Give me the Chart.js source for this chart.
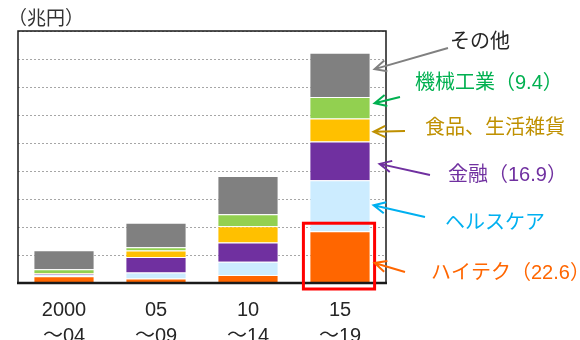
<!DOCTYPE html>
<html>
<head>
<meta charset="utf-8">
<script src="https://cdn.jsdelivr.net/npm/chart.js@4/dist/chart.umd.min.js"></script>
<style>
  body { margin: 0; background: #fff; }
  #wrap { width: 580px; height: 340px; }
</style>
</head>
<body>
<div id="wrap"><canvas id="chart" width="580" height="340"></canvas></div>
<script>
// 兆円
const categories = [["2000", "～04"], ["05", "～09"], ["10", "～14"], ["15", "～19"]];
const hitech = [3.0, 2.0, 3.5, 22.6];
const health = [0.6, 2.6, 5.8, 22.3];
const finance = [0.4, 6.7, 8.4, 16.9];
const food = [0.4, 2.9, 7.1, 10.0];
const machinery = [1.6, 1.4, 5.2, 9.4];
const others = [8.3, 10.7, 16.7, 19.3];

const FONT = '"Liberation Sans", "Noto Sans CJK JP", sans-serif';

// labels on the right, one per dataset (dataset index, arrow tip position in segment)
const notes = [
  { ds: 5, text: "その他", color: "#262626", arrow: "#808080", f: 0.37, tipDx: 4, tail: [62, 48], at: [64, 42] },
  { ds: 4, text: "機械工業（9.4）", color: "#00B050", arrow: "#00B050", f: 0.29, tipDx: 4, tail: [14, 97], at: [29, 83] },
  { ds: 3, text: "食品、生活雑貨", color: "#BF9000", arrow: "#BF9000", f: 0.58, tipDx: 3, tail: [19, 131], at: [39, 128] },
  { ds: 2, text: "金融（16.9）", color: "#7030A0", arrow: "#7030A0", f: 0.58, tipDx: 9, tail: [44, 175], at: [62, 175] },
  { ds: 1, text: "ヘルスケア", color: "#00B0F0", arrow: "#00B0F0", f: 0.49, tipDx: 3, tail: [39, 217], at: [59, 223] },
  { ds: 0, text: "ハイテク（22.6）", color: "#FF6600", arrow: "#FF6600", f: 0.62, tipDx: 4, tail: [19, 272], at: [45, 273] }
];

function drawArrow(ctx, x1, y1, x2, y2, color) {
  const a = Math.atan2(y2 - y1, x2 - x1);
  const len = 13, spread = 0.45;
  ctx.strokeStyle = color;
  ctx.lineWidth = 2;
  ctx.beginPath();
  ctx.moveTo(x1, y1);
  ctx.lineTo(x2, y2);
  ctx.moveTo(x2 - len * Math.cos(a - spread), y2 - len * Math.sin(a - spread));
  ctx.lineTo(x2, y2);
  ctx.lineTo(x2 - len * Math.cos(a + spread), y2 - len * Math.sin(a + spread));
  ctx.stroke();
}

const extras = {
  id: "extras",
  afterDraw(chart) {
    const ctx = chart.ctx;
    const area = chart.chartArea;
    ctx.save();

    // frame
    ctx.strokeStyle = "#1a1a1a";
    ctx.lineWidth = 1.5;
    ctx.strokeRect(area.left, area.top, area.right - area.left, area.bottom - area.top);
    ctx.lineWidth = 2.5;
    ctx.beginPath();
    ctx.moveTo(area.left - 1, area.bottom);
    ctx.lineTo(area.right + 1, area.bottom);
    ctx.stroke();

    // unit
    ctx.fillStyle = "#333";
    ctx.font = "19px " + FONT;
    ctx.textBaseline = "middle";
    ctx.textAlign = "left";
    ctx.fillText("（兆円）", 8, 20);

    // red box round the last hitech bar
    const hb = chart.getDatasetMeta(0).data[3];
    ctx.strokeStyle = "#FF0000";
    ctx.lineWidth = 3;
    ctx.strokeRect(hb.x - hb.width / 2 - 6, hb.y - 8, hb.width + 10, area.bottom + 6 - (hb.y - 8));

    // arrows and labels
    ctx.font = "20px " + FONT;
    notes.forEach(n => {
      const bar = chart.getDatasetMeta(n.ds).data[3];
      const tipX = bar.x + bar.width / 2 + n.tipDx;
      const tipY = bar.y + n.f * (bar.base - bar.y);
      drawArrow(ctx, area.right + n.tail[0], n.tail[1], tipX, tipY, n.arrow);
      ctx.fillStyle = n.color;
      ctx.fillText(n.text, area.right + n.at[0], n.at[1]);
    });
    ctx.restore();
  }
};

function ds(label, data, color) {
  return {
    label, data,
    backgroundColor: color,
    borderColor: "rgba(255,255,255,0.45)",
    borderWidth: 1,
    categoryPercentage: 1,
    barPercentage: 0.665
  };
}

new Chart(document.getElementById("chart"), {
  type: "bar",
  data: {
    labels: categories,
    datasets: [
      ds("ハイテク", hitech, "#FF6600"),
      ds("ヘルスケア", health, "#CCECFF"),
      ds("金融", finance, "#7030A0"),
      ds("食品、生活雑貨", food, "#FFC000"),
      ds("機械工業", machinery, "#92D050"),
      ds("その他", others, "#808080")
    ]
  },
  options: {
    responsive: false,
    animation: false,
    devicePixelRatio: 1,
    layout: { padding: { left: 18, right: 194, top: 31, bottom: 0 } },
    plugins: { legend: { display: false }, tooltip: { enabled: false } },
    scales: {
      x: {
        stacked: true,
        grid: { display: false, drawTicks: false },
        border: { display: false },
        ticks: {
          color: "#262626",
          font: { family: FONT, size: 20, lineHeight: 1.3 },
          padding: 14,
          maxRotation: 0,
          autoSkip: false
        },
        afterFit(s) { s.height = 57; }
      },
      y: {
        stacked: true,
        min: 0,
        max: 110,
        ticks: { display: false, count: 10 },
        grid: { color: "#A6A6A6", lineWidth: 1, drawTicks: false },
        border: { display: false, dash: [2, 2] },
        afterFit(s) { s.width = 0; }
      }
    }
  },
  plugins: [extras]
});
</script>
</body>
</html>
